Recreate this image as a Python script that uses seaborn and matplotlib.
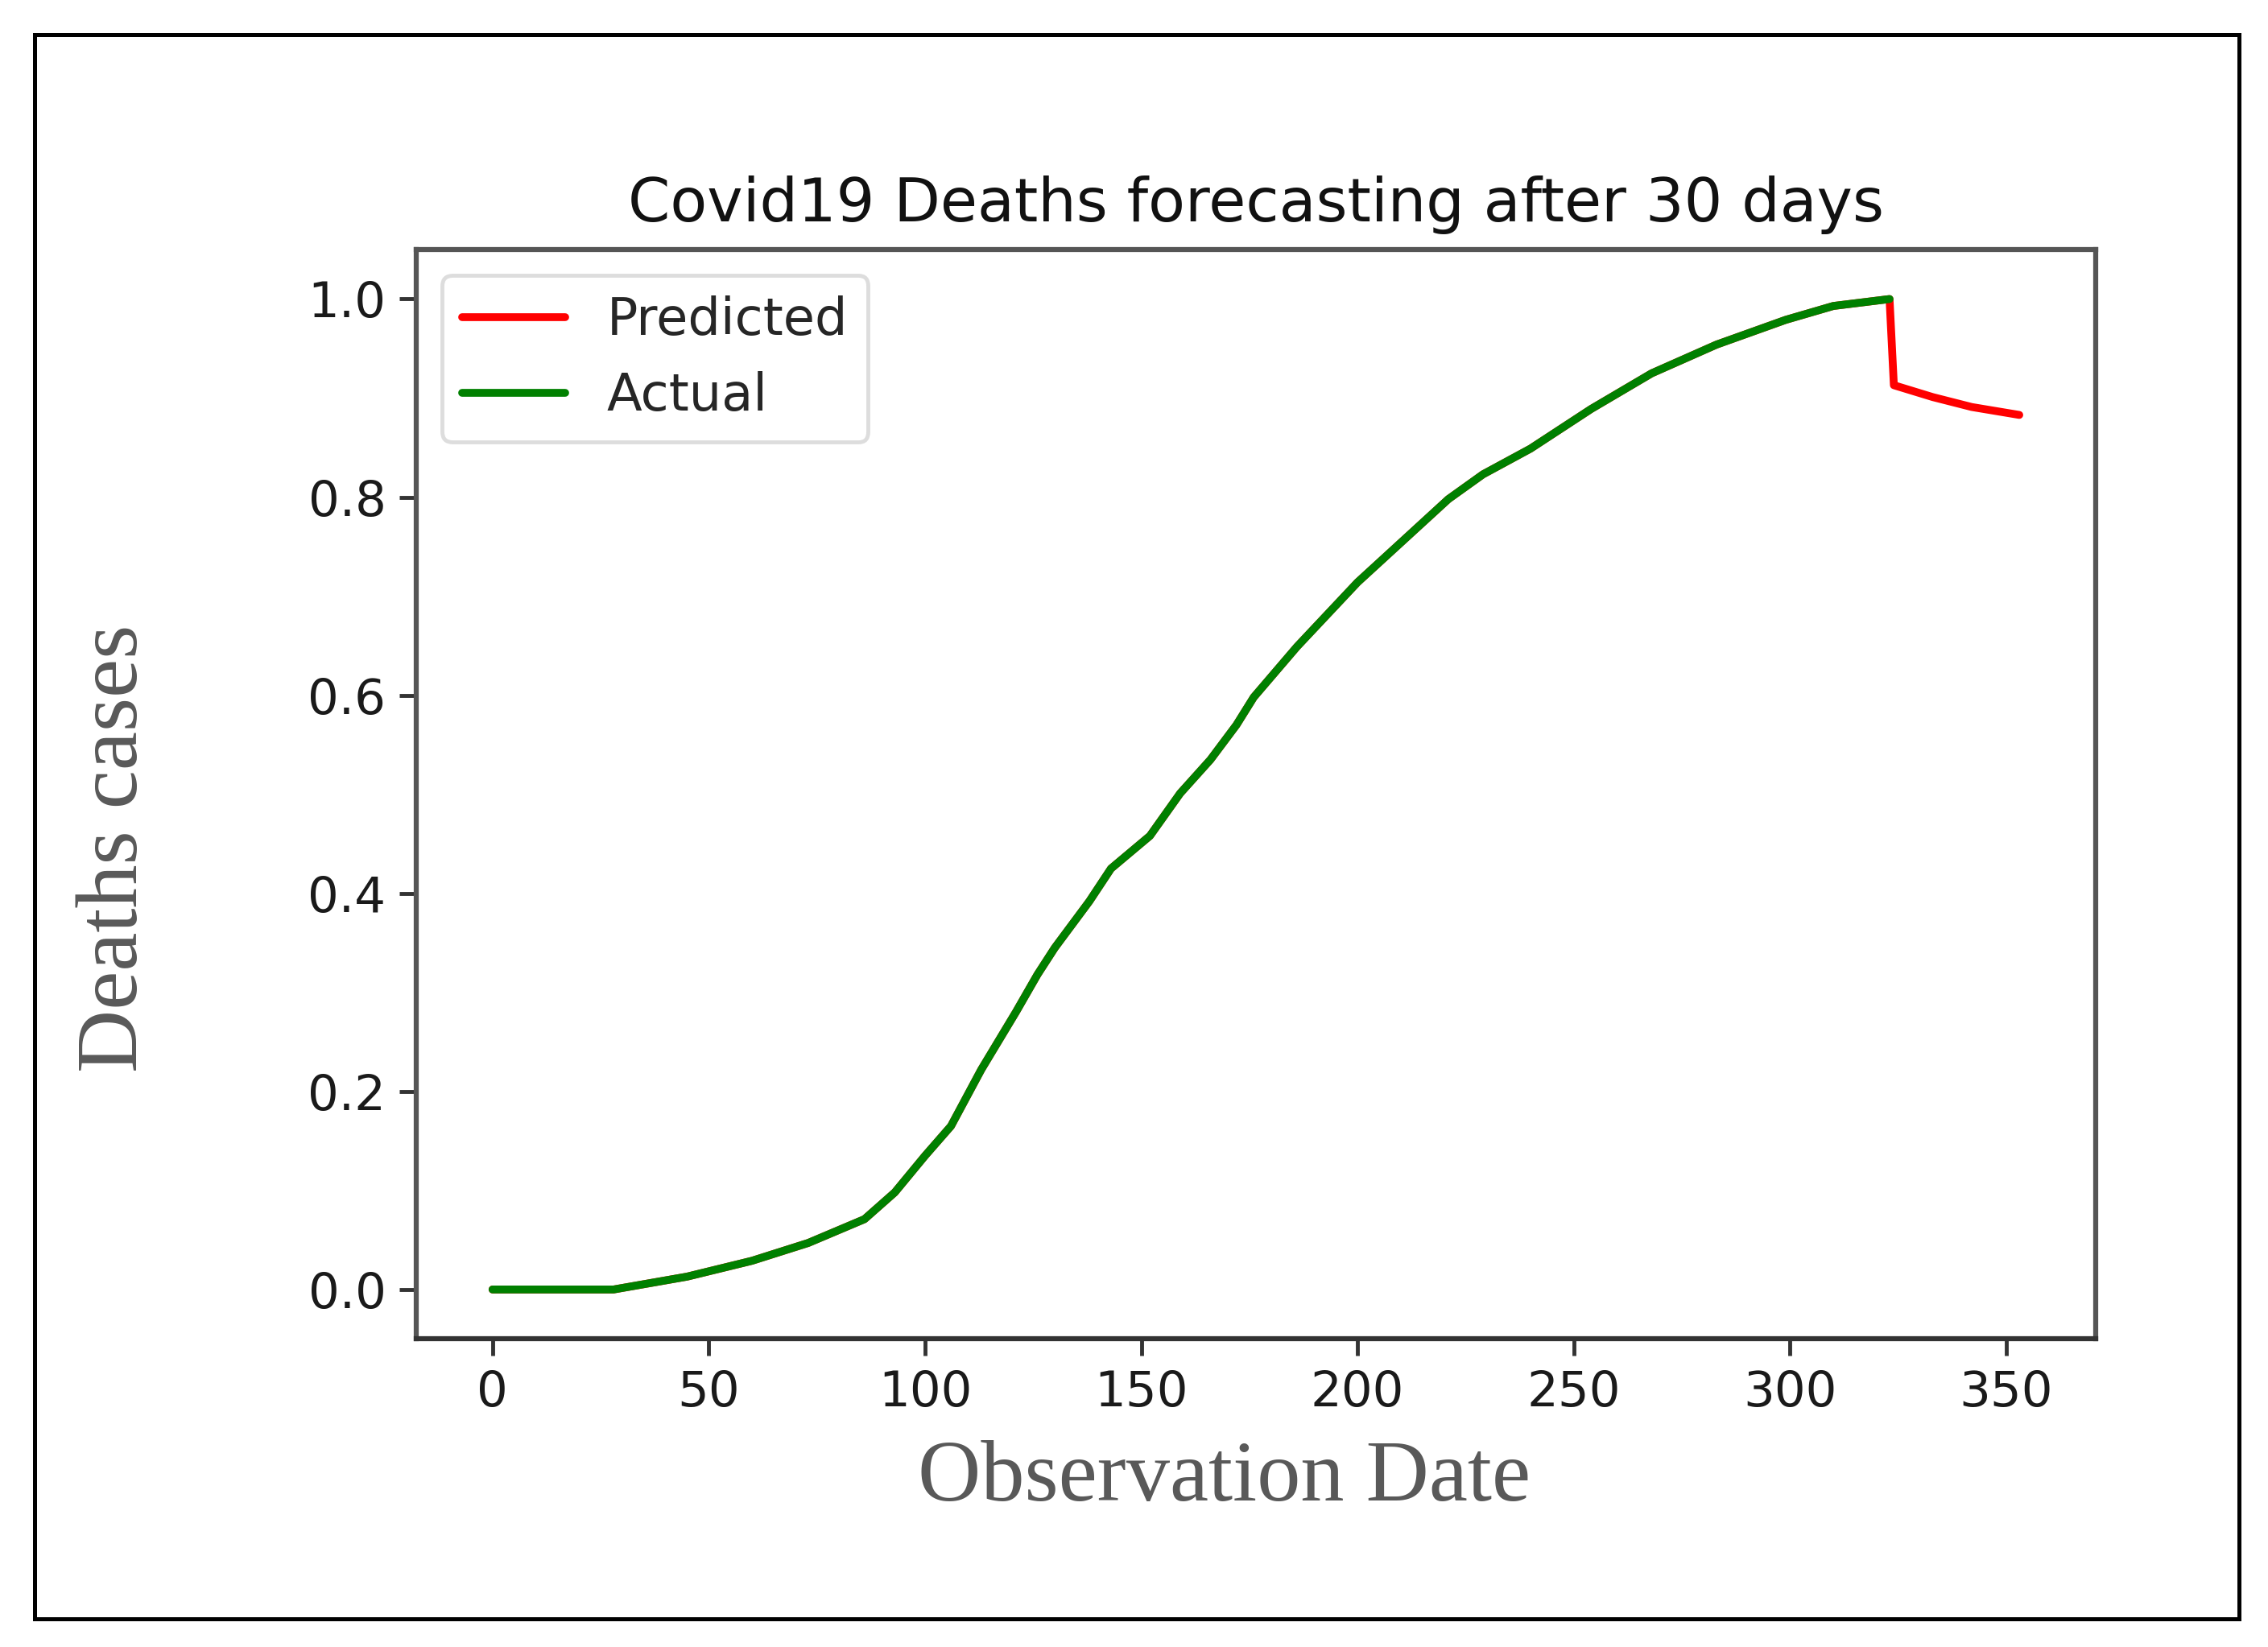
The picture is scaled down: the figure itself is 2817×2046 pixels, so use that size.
import numpy as np
import pandas as pd
import matplotlib
matplotlib.use('Agg')
import matplotlib.pyplot as plt
import matplotlib.patches as patches
import seaborn as sns

# Values (day index, normalised deaths)
actual_days = [0, 28, 45, 60, 73, 86, 93, 100, 106, 113, 121, 126, 130, 138,
               143, 152, 159, 166, 172, 176, 186, 200, 211, 221, 229, 240,
               254, 268, 283, 299, 310, 323]
actual_vals = [0.0, 0.0, 0.013, 0.029, 0.047, 0.071, 0.098, 0.135, 0.165,
               0.222, 0.280, 0.318, 0.345, 0.392, 0.425, 0.458, 0.501, 0.535,
               0.570, 0.598, 0.649, 0.714, 0.758, 0.798, 0.823, 0.849, 0.889,
               0.925, 0.954, 0.979, 0.993, 1.0]
forecast_days = [324, 333, 342, 353]
forecast_vals = [0.913, 0.901, 0.891, 0.883]

pred_days = actual_days + forecast_days
pred_vals = actual_vals + forecast_vals

df_act = pd.DataFrame({'day': actual_days, 'value': actual_vals})
df_pred = pd.DataFrame({'day': pred_days, 'value': pred_vals})

sns.set_style('white')
plt.rcParams['font.family'] = ['DejaVu Sans']

fig = plt.figure(figsize=(28.17, 20.46), dpi=100)
ax = fig.add_axes([0.1835, 0.187, 0.924 - 0.1835, 0.8485 - 0.187])

sns.lineplot(data=df_pred, x='day', y='value', color='red', lw=7,
             label='Predicted', ax=ax)
sns.lineplot(data=df_act, x='day', y='value', color='green', lw=7,
             label='Actual', ax=ax)

ax.set_xlim(-17.65, 370.65)
ax.set_ylim(-0.05, 1.05)
ax.set_xticks(np.arange(0, 351, 50))
ax.set_yticks(np.arange(0, 1.01, 0.2))

for s in ax.spines.values():
    s.set_color('#555555')
    s.set_linewidth(4.5)
ax.spines['bottom'].set_color('#333333')
ax.tick_params(axis='both', which='major', labelsize=44, length=15, width=3.5,
               color='#333333', labelcolor='#1a1a1a', pad=12, left=True,
               bottom=True)

ax.set_title('Covid19 Deaths forecasting after 30 days', fontsize=54,
             pad=25, color='#111111')

ax.set_xlabel('Observation Date', family='Liberation Serif', fontsize=78,
              color='#595959')
ax.set_ylabel('Deaths cases', family='Liberation Serif', fontsize=78,
              color='#595959')
ax.xaxis.set_label_coords(0.481, -0.129)
ax.xaxis.label.set_va('center')
ax.yaxis.set_label_coords(-0.179, 0.45)
ax.yaxis.label.set_va('center')

leg = ax.legend(loc='upper left', fontsize=46, frameon=True, handlelength=2.0)
leg.get_frame().set_edgecolor('#d5d5d5')
leg.get_frame().set_linewidth(3.5)

# outer black frame
border = patches.Rectangle((0.0153, 0.0171), 0.972, 0.962, transform=fig.transFigure,
                           fill=False, edgecolor='black', linewidth=3.6)
fig.patches.append(border)

fig.savefig('out.png', dpi=100)
